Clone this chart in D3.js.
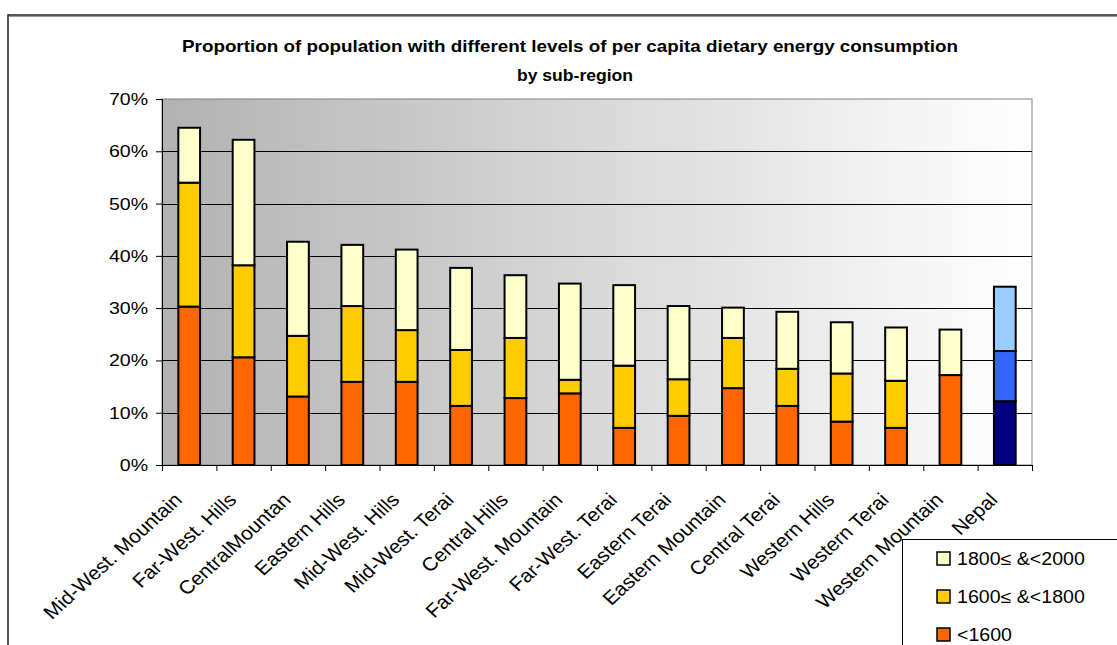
<!DOCTYPE html>
<html>
<head>
<meta charset="utf-8">
<script src="https://cdn.jsdelivr.net/npm/d3@7"></script>
<style>
  body { margin: 0; background: #fff; }
  svg { display: block; font-family: "Liberation Sans", Arial, sans-serif; }
</style>
</head>
<body>
<div id="chart"></div>
<script>
// data (percent of population)
var categories = ["Mid-West. Mountain", "Far-West. Hills", "CentralMountan", "Eastern Hills",
  "Mid-West. Hills", "Mid-West. Terai", "Central Hills", "Far-West. Mountain", "Far-West. Terai",
  "Eastern Terai", "Eastern Mountain", "Central Terai", "Western Hills", "Western Terai",
  "Western Mountain", "Nepal"];
var below1600 = [30.3, 20.6, 13.1, 15.9, 15.9, 11.3, 12.8, 13.7, 7.1, 9.4, 14.7, 11.3, 8.3, 7.1, 17.2, 12.2];
var from1600 = [23.7, 17.6, 11.6, 14.5, 9.9, 10.7, 11.5, 2.6, 11.9, 7.0, 9.6, 7.1, 9.2, 9.0, 0, 9.6];
var from1800 = [10.5, 24.0, 18.0, 11.7, 15.4, 15.7, 12.0, 18.4, 15.4, 14.0, 5.8, 10.9, 9.8, 10.2, 8.7, 12.3];
var seriesKeys = ["<1600", "1600≤ &<1800", "1800≤ &<2000"];
var yTicks = [0, 10, 20, 30, 40, 50, 60, 70];
var titleLines = ["Proportion of population with different levels of per capita dietary energy consumption", "by sub-region"];

var colors = ["#ff6600", "#ffcc00", "#ffffcc"];
var nepalColors = ["#000080", "#3366ff", "#99ccff"];

var W = 1117, H = 645;
var plotLeft = 162, plotRight = 1032, plotTop = 99, plotBottom = 465;
var SX = 1.15; // the picture's text is a bit wide

var svg = d3.select("#chart").append("svg")
  .attr("width", W)
  .attr("height", H);

svg.append("rect").attr("width", W).attr("height", H).attr("fill", "#fff");

// chart frame
svg.append("path")
  .attr("d", "M8," + H + " V15 H" + W)
  .attr("fill", "none")
  .attr("stroke", "#222")
  .attr("stroke-width", 1.5);
svg.append("line")
  .attr("x1", 9).attr("x2", W).attr("y1", 16.5).attr("y2", 16.5)
  .attr("stroke", "#999").attr("stroke-width", 1);

var rows = categories.map(function(c, i) {
  var r = { name: c };
  r[seriesKeys[0]] = below1600[i];
  r[seriesKeys[1]] = from1600[i];
  r[seriesKeys[2]] = from1800[i];
  return r;
});
var stacked = d3.stack().keys(seriesKeys)(rows);

var x = d3.scaleBand()
  .domain(categories)
  .range([plotLeft, plotRight])
  .paddingInner(0.6)
  .paddingOuter(0.3);
var xEdges = d3.scaleLinear().domain([0, categories.length]).range([plotLeft, plotRight]);
var y = d3.scaleLinear().domain([0, 70]).range([plotBottom, plotTop]);

// plot background gradient
var defs = svg.append("defs");
var grad = defs.append("linearGradient").attr("id", "bg")
  .attr("x1", "0%").attr("x2", "100%").attr("y1", "0%").attr("y2", "0%");
grad.append("stop").attr("offset", "0%").attr("stop-color", "#b2b2b2");
grad.append("stop").attr("offset", "100%").attr("stop-color", "#ffffff");

svg.append("rect")
  .attr("x", plotLeft).attr("y", plotTop)
  .attr("width", plotRight - plotLeft).attr("height", plotBottom - plotTop)
  .attr("fill", "url(#bg)")
  .attr("stroke", "#808080");

// gridlines
svg.append("g").selectAll("line")
  .data(yTicks.slice(1, -1))
  .join("line")
  .attr("x1", plotLeft).attr("x2", plotRight)
  .attr("y1", function(d) { return Math.round(y(d)) + 0.5; })
  .attr("y2", function(d) { return Math.round(y(d)) + 0.5; })
  .attr("stroke", "#000")
  .attr("stroke-width", 1);

// bars
svg.append("g").selectAll("g")
  .data(stacked)
  .join("g")
  .selectAll("rect")
  .data(function(s, si) { return s.map(function(d) { d.si = si; return d; }); })
  .join("rect")
  .filter(function(d) { return d[1] - d[0] > 0; })
  .attr("x", function(d) { return x(d.data.name); })
  .attr("width", x.bandwidth())
  .attr("y", function(d) { return y(d[1]); })
  .attr("height", function(d) { return y(d[0]) - y(d[1]); })
  .attr("fill", function(d) { return d.data.name == "Nepal" ? nepalColors[d.si] : colors[d.si]; })
  .attr("stroke", "#000")
  .attr("stroke-width", 2);

// y axis
var yAxis = svg.append("g")
  .attr("transform", "translate(" + plotLeft + ",0)")
  .call(d3.axisLeft(y).tickValues(yTicks).tickFormat(function(d) { return d + "%"; }).tickSize(6).tickPadding(8));
yAxis.select(".domain").attr("stroke", "#000");
yAxis.selectAll("text")
  .attr("font-size", 17)
  .attr("fill", "#000")
  .attr("transform", function() {
    var xx = +d3.select(this).attr("x");
    return "translate(" + xx + ",0) scale(" + SX + ",1) translate(" + (-xx) + ",0)";
  });

// x axis with ticks between categories
var xAxis = svg.append("g")
  .attr("transform", "translate(0," + plotBottom + ")")
  .call(d3.axisBottom(xEdges).tickValues(d3.range(categories.length + 1)).tickFormat("").tickSize(6));
xAxis.select(".domain").attr("stroke", "#000");

// category labels
svg.append("g").selectAll("text")
  .data(categories)
  .join("text")
  .attr("transform", function(d) {
    var cx = x(d) + x.bandwidth() / 2 - 6;
    return "translate(" + cx + "," + (plotBottom + 36) + ") scale(1.1,1) rotate(-45)";
  })
  .attr("text-anchor", "end")
  .attr("font-size", 19)
  .attr("fill", "#000")
  .text(function(d) { return d; });

// title
svg.append("text")
  .attr("x", 570).attr("y", 52)
  .attr("text-anchor", "middle")
  .attr("font-size", 17)
  .attr("font-weight", "bold")
  .attr("textLength", 776)
  .attr("lengthAdjust", "spacingAndGlyphs")
  .text(titleLines[0]);
svg.append("text")
  .attr("x", 575).attr("y", 81)
  .attr("text-anchor", "middle")
  .attr("font-size", 17)
  .attr("font-weight", "bold")
  .attr("textLength", 116)
  .attr("lengthAdjust", "spacingAndGlyphs")
  .text(titleLines[1]);

// legend (runs off the page edge like the picture)
var legend = svg.append("g");
legend.append("rect")
  .attr("x", 902.5).attr("y", 539.5)
  .attr("width", 240).attr("height", 140)
  .attr("fill", "#fff")
  .attr("stroke", "#000");
var legendItems = [2, 1, 0];
legend.selectAll("g.item")
  .data(legendItems)
  .join("g")
  .attr("class", "item")
  .attr("transform", function(d, i) { return "translate(937," + (552 + i * 38) + ")"; })
  .each(function(si) {
    var g = d3.select(this);
    g.append("rect")
      .attr("width", 13).attr("height", 13)
      .attr("fill", colors[si])
      .attr("stroke", "#000")
      .attr("stroke-width", 1.5);
    g.append("text")
      .attr("transform", "translate(20,13) scale(1.12,1)")
      .attr("font-size", 17.5)
      .attr("fill", "#000")
      .text(seriesKeys[si]);
  });
</script>
</body>
</html>
